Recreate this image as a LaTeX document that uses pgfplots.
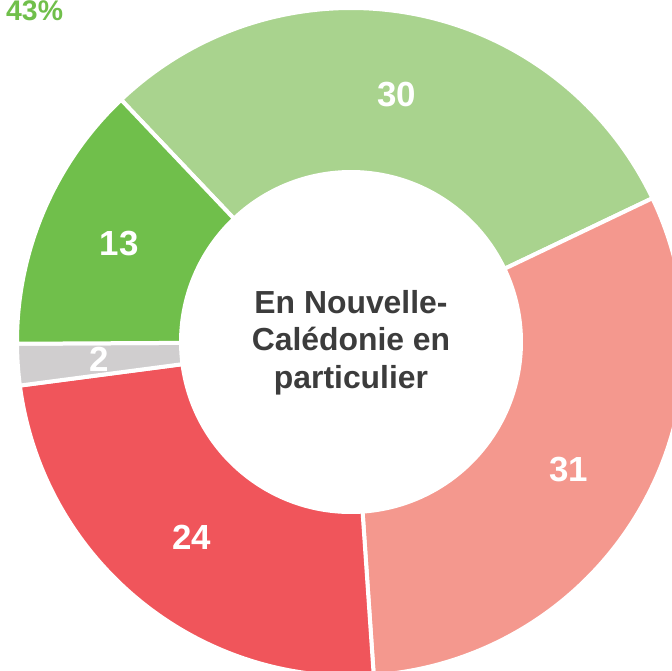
\documentclass[border=0pt]{standalone}
\usepackage{fontspec}
\setmainfont{Liberation Sans}
\usepackage{pgfplots}
\pgfplotsset{compat=1.18}
\usepackage{pgfplotstable}

\definecolor{sliceLgreen}{HTML}{A9D38E}
\definecolor{sliceSalmon}{HTML}{F4988E}
\definecolor{sliceRed}{HTML}{F0555B}
\definecolor{sliceGray}{HTML}{D0CECF}
\definecolor{sliceGreen}{HTML}{70BF4B}
\definecolor{centretext}{HTML}{3C3C3C}

% slices, clockwise from the 13/30 boundary
\pgfplotstableread{
value colour
30 sliceLgreen
31 sliceSalmon
24 sliceRed
2  sliceGray
13 sliceGreen
}\slices

\def\startangle{133.5}
\def\Rout{334}
\def\Rin{170}
\def\Rlab{252}
\newcommand\slicefont{\bfseries\fontsize{35}{35}\selectfont}
\newcommand\centrefont{\bfseries\fontsize{32}{37}\selectfont}

\begin{document}
\begin{tikzpicture}
\begin{axis}[
  x=1bp, y=1bp,
  xmin=-351, xmax=321,
  ymin=-329, ymax=342,
  hide axis,
  scale only axis,
  clip=false,
]
\coordinate (bl) at (rel axis cs:0,0);
\coordinate (tr) at (rel axis cs:1,1);

\pgfplotstablegetrowsof{\slices}
\pgfmathtruncatemacro\lastrow{\pgfplotsretval-1}
\def\cum{0}
\pgfplotsforeachungrouped \i in {0,...,\lastrow}{%
  \pgfplotstablegetelem{\i}{value}\of\slices
  \let\v\pgfplotsretval
  \pgfplotstablegetelem{\i}{colour}\of\slices
  \let\c\pgfplotsretval
  \pgfmathsetmacro\a{\startangle-3.6*\cum}
  \pgfmathsetmacro\b{\startangle-3.6*(\cum+\v)}
  \pgfmathsetmacro\m{(\a+\b)/2}
  \pgfmathsetmacro\xa{\Rout*cos(\a)}
  \pgfmathsetmacro\ya{\Rout*sin(\a)}
  \pgfmathsetmacro\xb{\Rin*cos(\b)}
  \pgfmathsetmacro\yb{\Rin*sin(\b)}
  \pgfmathsetmacro\xm{\Rlab*cos(\m)}
  \pgfmathsetmacro\ym{\Rlab*sin(\m)}
  \edef\temp{%
    \noexpand\filldraw[fill=\c, draw=white, line width=4bp]
      (axis cs:\xa,\ya) arc[start angle=\a, end angle=\b, radius=\Rout bp]
      -- (axis cs:\xb,\yb) arc[start angle=\b, end angle=\a, radius=\Rin bp]
      -- cycle;
    \noexpand\node[text=white, font=\noexpand\slicefont, inner sep=0pt]
      at (axis cs:\xm,\ym) {\v};
  }\temp
  \pgfmathsetmacro\cum{\cum+\v}
}

\node[anchor=base, text=centretext, font=\centrefont, inner sep=0pt]
  at (axis cs:0,28.7) {En Nouvelle-};
\node[anchor=base, text=centretext, font=\centrefont, inner sep=0pt]
  at (axis cs:0,-8.7) {Calédonie en};
\node[anchor=base, text=centretext, font=\centrefont, inner sep=0pt]
  at (axis cs:0,-46.3) {particulier};

\node[anchor=base west, text=sliceGreen, inner sep=0pt,
  font=\bfseries\fontsize{28.5}{28.5}\selectfont]
  at (axis cs:-345,321) {43\%};
\end{axis}
\pgfresetboundingbox
\useasboundingbox (bl) rectangle (tr);
\end{tikzpicture}
\end{document}
